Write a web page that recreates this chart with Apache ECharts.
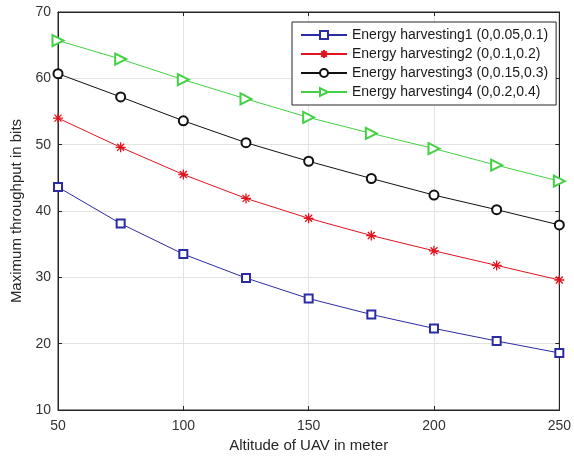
<!DOCTYPE html>
<html>
<head>
<meta charset="utf-8">
<script src="https://cdn.jsdelivr.net/npm/echarts@6/dist/echarts.min.js"></script>
<style>
  html, body { margin: 0; padding: 0; background: #fff; }
  #chart { width: 574px; height: 459px; }
</style>
</head>
<body>
<div id="chart"></div>
<script>
(function(){
    'use strict';

    // altitude of UAV (m)
    var altitude = [50, 75, 100, 125, 150, 175, 200, 225, 250];
    // max throughput per energy harvesting setting
    var harvest1 = [43.6, 38.1, 33.5, 29.9, 26.8, 24.4, 22.3, 20.4, 18.6];
    var harvest2 = [54.0, 49.6, 45.5, 41.9, 38.9, 36.3, 34.0, 31.8, 29.6];
    var harvest3 = [60.7, 57.2, 53.6, 50.3, 47.5, 44.9, 42.4, 40.2, 37.9];
    var harvest4 = [65.7, 62.9, 59.8, 56.9, 54.1, 51.7, 49.4, 46.9, 44.5];
    var seriesNames = [
        'Energy harvesting1 (0,0.05,0.1)',
        'Energy harvesting2 (0,0.1,0.2)',
        'Energy harvesting3 (0,0.15,0.3)',
        'Energy harvesting4 (0,0.2,0.4)'
    ];
    var xTicks = [50, 100, 150, 200, 250];
    var yTicks = [10, 20, 30, 40, 50, 60, 70];

    var font = 'Liberation Sans, Arial, sans-serif';
    var asterisk = 'path://M0,5 L10,5 M5,0 L5,10 M1.5,1.5 L8.5,8.5 M8.5,1.5 L1.5,8.5';

    function pairs(ys){
        var out = [];
        for (var i = 0; i < altitude.length; i++){
            out.push([altitude[i], ys[i]]);
        }
        return out;
    }

    var myChart = echarts.init(document.getElementById('chart'));

    var option = {
        animation : false,
        backgroundColor : '#fff',
        grid : {
            left : 58, right : 12, top : 12, bottom : 49,
            show : true,
            borderColor : '#262626',
            borderWidth : 1
        },
        legend : {
            orient : 'vertical',
            left : 292,
            top : 22,
            width : 266,
            padding : [6, 8, 6, 8],
            itemGap : 5,
            itemWidth : 46,
            itemHeight : 10,
            backgroundColor : '#fff',
            borderColor : '#262626',
            borderWidth : 1,
            textStyle : { fontFamily : font, fontSize : 14, color : '#1a1a1a' },
            data : seriesNames
        },
        xAxis : [
            {
                type : 'value',
                min : xTicks[0], max : xTicks[xTicks.length - 1], interval : 50,
                name : 'Altitude of UAV in meter',
                nameLocation : 'middle',
                nameGap : 26,
                nameTextStyle : { fontFamily : font, fontSize : 15, color : '#262626' },
                axisLine : { show : true, lineStyle : { color : '#262626' } },
                axisTick : { inside : true, length : 4, lineStyle : { color : '#262626' } },
                axisLabel : { fontFamily : font, fontSize : 14, color : '#333', margin : 9 },
                splitLine : { show : true, lineStyle : { color : '#e3e3e3' } }
            },
            {
                type : 'value', position : 'top',
                min : xTicks[0], max : xTicks[xTicks.length - 1], interval : 50,
                axisLine : { show : true, lineStyle : { color : '#262626' } },
                axisTick : { inside : true, length : 4, lineStyle : { color : '#262626' } },
                axisLabel : { show : false },
                splitLine : { show : false }
            }
        ],
        yAxis : [
            {
                type : 'value',
                min : yTicks[0], max : yTicks[yTicks.length - 1], interval : 10,
                name : 'Maximum throughput in bits',
                nameLocation : 'middle',
                nameGap : 33,
                nameTextStyle : { fontFamily : font, fontSize : 15, color : '#262626' },
                axisLine : { show : true, lineStyle : { color : '#262626' } },
                axisTick : { inside : true, length : 4, lineStyle : { color : '#262626' } },
                axisLabel : { fontFamily : font, fontSize : 14, color : '#333', margin : 7 },
                splitLine : { show : true, lineStyle : { color : '#e3e3e3' } }
            },
            {
                type : 'value', position : 'right',
                min : yTicks[0], max : yTicks[yTicks.length - 1], interval : 10,
                axisLine : { show : true, lineStyle : { color : '#262626' } },
                axisTick : { inside : true, length : 4, lineStyle : { color : '#262626' } },
                axisLabel : { show : false },
                splitLine : { show : false }
            }
        ],
        series : [
            {
                name : seriesNames[0], type : 'line', data : pairs(harvest1),
                symbol : 'emptyRect', symbolSize : 8,
                lineStyle : { color : '#2b2ba3', width : 1 },
                itemStyle : { color : '#2b2ba3', borderWidth : 1 }
            },
            {
                name : seriesNames[1], type : 'line', data : pairs(harvest2),
                symbol : asterisk, symbolSize : 10,
                lineStyle : { color : '#e0141e', width : 1 },
                itemStyle : { color : '#e0141e', borderColor : '#e0141e', borderWidth : 1.3 }
            },
            {
                name : seriesNames[2], type : 'line', data : pairs(harvest3),
                symbol : 'emptyCircle', symbolSize : 9,
                lineStyle : { color : '#111', width : 1 },
                itemStyle : { color : '#111', borderWidth : 1 }
            },
            {
                name : seriesNames[3], type : 'line', data : pairs(harvest4),
                symbol : 'emptyTriangle', symbolSize : 11, symbolRotate : -90,
                lineStyle : { color : '#44d044', width : 1 },
                itemStyle : { color : '#44d044', borderWidth : 1 }
            }
        ]
    };

    myChart.setOption(option);
})();
</script>
</body>
</html>
